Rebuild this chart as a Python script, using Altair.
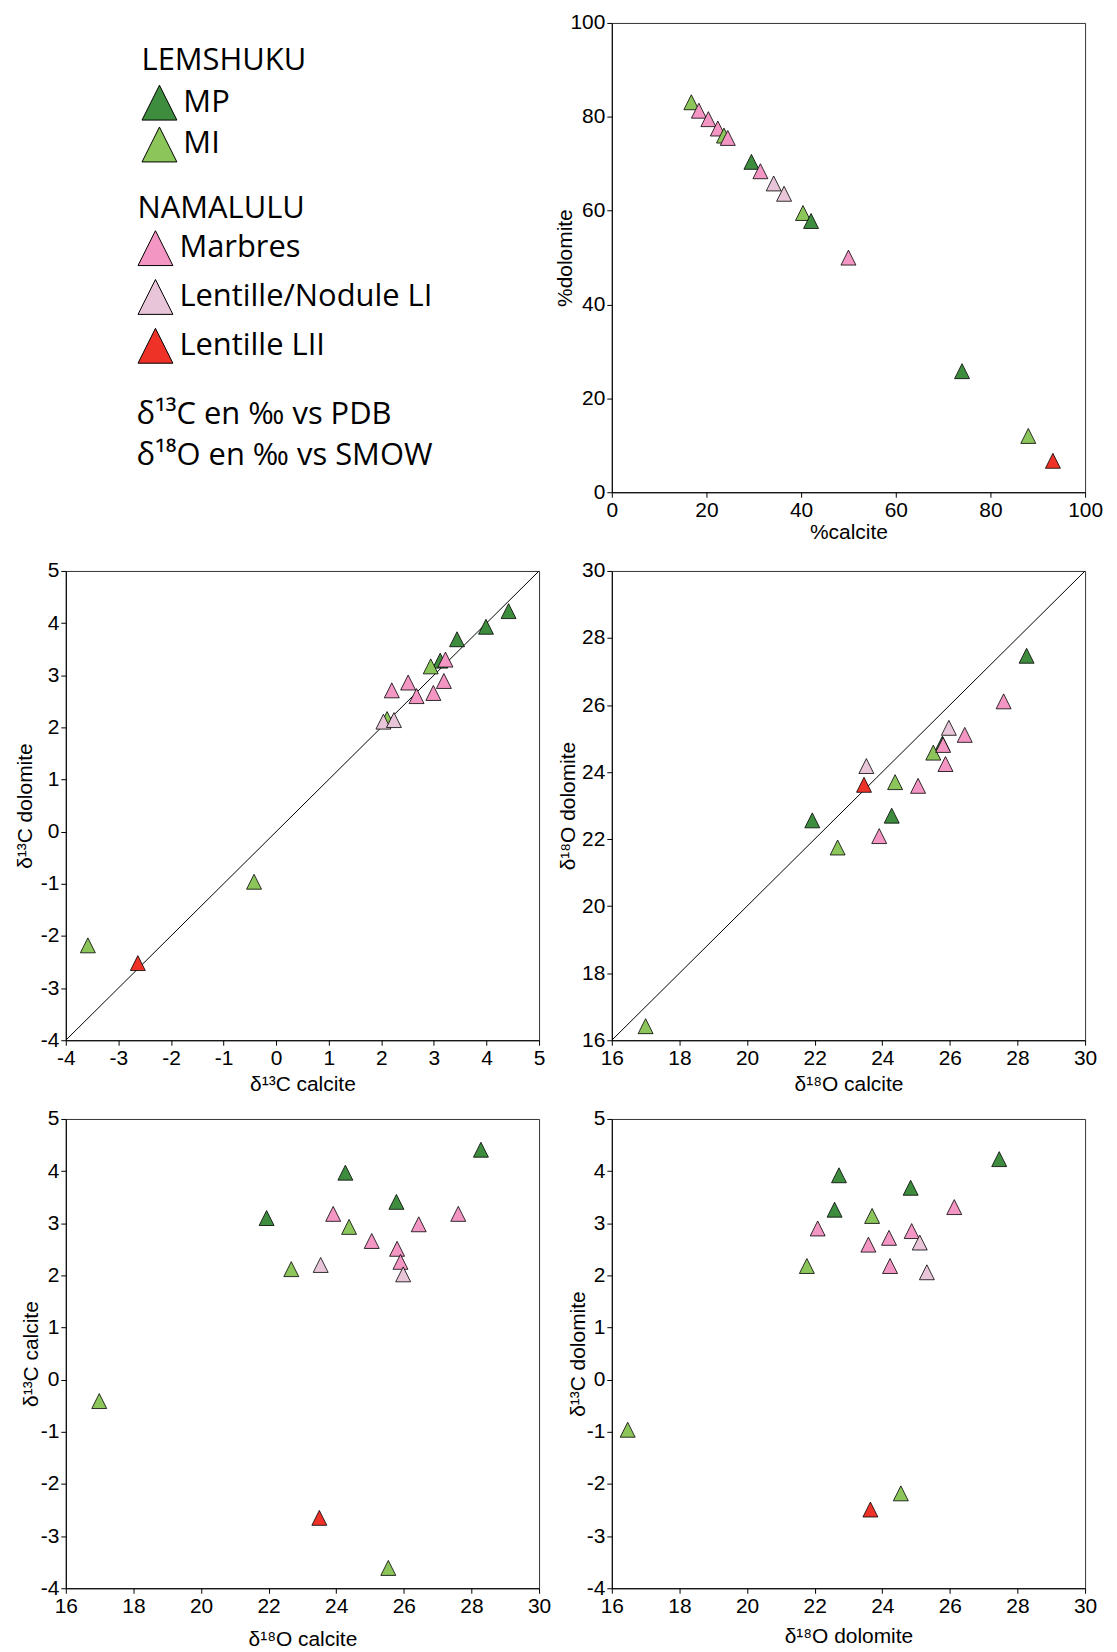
import altair as alt
import pandas as pd

# ---------------- data ----------------
GROUPS = ["MP", "MI", "Marbres", "Lentille/Nodule LI", "Lentille LII"]
COLORS = ["#3e8c3e", "#8cc65a", "#f496c3", "#e8c5d8", "#ee3228"]
LEM = GROUPS[:2]
NAM = GROUPS[2:]

NOTE_LINES = ["δ¹³C en ‰ vs PDB", "δ¹⁸O en ‰ vs SMOW"]

# panel 1 : %calcite vs %dolomite
p1_group = ["MI", "Marbres", "Marbres", "Marbres", "MI", "Marbres", "MP", "Marbres",
            "Lentille/Nodule LI", "Lentille/Nodule LI", "MI", "MP", "Marbres", "MP", "MI",
            "Lentille LII"]
p1_calcite = [16.8, 18.4, 20.4, 22.4, 23.7, 24.5, 29.5, 31.4, 34.2, 36.4, 40.4, 42.1,
              50.0, 74.0, 88.0, 93.2]
p1_dolomite = [83.1, 81.3, 79.5, 77.5, 76.0, 75.5, 70.4, 68.4, 65.8, 63.6, 59.5, 57.8,
               50.0, 25.8, 12.0, 6.7]

# panels 2-5 (same group order)
pX_group = ["MP"] * 4 + ["MI"] * 4 + ["Marbres"] * 6 + ["Lentille/Nodule LI"] * 2 + ["Lentille LII"]

# panel 2 : d13C calcite vs d13C dolomite
p2_c13_cal = [3.12, 3.44, 3.99, 4.42, -3.58, -0.42, 2.11, 2.94,
              2.20, 2.51, 2.67, 2.99, 3.19, 3.22, 2.04, 2.24, -2.63]
p2_c13_dol = [3.28, 3.69, 3.93, 4.23, -2.18, -0.96, 2.16, 3.17,
              2.71, 2.86, 2.60, 2.66, 2.89, 3.30, 2.11, 2.14, -2.52]

# panel 3 : d18O calcite vs d18O dolomite
p3_o18_cal = [21.93, 24.28, 25.78, 28.27, 17.00, 22.68, 24.38, 25.51,
              23.91, 25.06, 25.80, 25.87, 26.44, 27.59, 23.53, 25.97, 23.46]
p3_o18_dol = [22.56, 22.70, 24.85, 27.47, 16.42, 21.75, 23.70, 24.58,
              22.09, 23.59, 24.81, 24.24, 25.11, 26.11, 24.18, 25.32, 23.62]

# panel 4 : d18O calcite vs d13C calcite
p4_o18_cal = [21.94, 24.27, 25.78, 28.28, 16.99, 22.67, 24.38, 25.54,
              23.91, 25.05, 25.80, 25.90, 26.44, 27.61, 23.54, 25.98, 23.50]
p4_c13_cal = [3.10, 3.97, 3.41, 4.41, -0.41, 2.12, 2.93, -3.61,
              3.18, 2.66, 2.51, 2.26, 2.98, 3.18, 2.20, 2.02, -2.65]

# panel 5 : d18O dolomite vs d13C dolomite
p5_o18_dol = [22.59, 22.72, 24.84, 27.46, 16.47, 21.77, 23.70, 24.55,
              22.09, 23.59, 24.20, 24.23, 24.87, 26.13, 25.11, 25.32, 23.65]
p5_c13_dol = [3.26, 3.92, 3.68, 4.23, -0.96, 2.18, 3.14, -2.18,
              2.90, 2.59, 2.72, 2.18, 2.85, 3.31, 2.63, 2.06, -2.49]

PCT_TICKS = [0, 20, 40, 60, 80, 100]
C13_TICKS = [-4, -3, -2, -1, 0, 1, 2, 3, 4, 5]
O18_TICKS = [16, 18, 20, 22, 24, 26, 28, 30]
DIAG_C13 = [-4, 5]     # 1:1 line end points
DIAG_O18 = [16, 30]

# ---------------- styling ----------------
W, H = 475, 471
TRI = "M0,-1L1,1L-1,1Z"
LABEL_EXPR = "'' + datum.value"


def panel(xs, ys, groups, ticks_x, ticks_y, xtitle, ytitle, diag=None,
          ytp=2, xtp=5):
    df = pd.DataFrame({"x": xs, "y": ys, "group": groups})
    xscale = alt.Scale(domain=[ticks_x[0], ticks_x[-1]], nice=False, zero=False)
    yscale = alt.Scale(domain=[ticks_y[0], ticks_y[-1]], nice=False, zero=False)
    xaxis = alt.Axis(title=xtitle, values=ticks_x, labelExpr=LABEL_EXPR, titlePadding=xtp)
    yaxis = alt.Axis(title=ytitle, values=ticks_y, labelExpr=LABEL_EXPR, titlePadding=ytp)
    pts = alt.Chart(df).mark_point(
        shape=TRI, filled=True, size=225, stroke="black", strokeWidth=0.8, opacity=1
    ).encode(
        x=alt.X("x:Q", scale=xscale, axis=xaxis),
        y=alt.Y("y:Q", scale=yscale, axis=yaxis),
        fill=alt.Fill("group:N", scale=alt.Scale(domain=GROUPS, range=COLORS), legend=None),
    )
    if diag is not None:
        ddf = pd.DataFrame({"x": diag, "y": diag})
        line = alt.Chart(ddf).mark_line(color="black", strokeWidth=1).encode(
            x=alt.X("x:Q", scale=xscale, axis=xaxis),
            y=alt.Y("y:Q", scale=yscale, axis=yaxis),
        )
        return alt.layer(line, pts).properties(width=W, height=H)
    return pts.properties(width=W, height=H)


p1 = panel(p1_calcite, p1_dolomite, p1_group, PCT_TICKS, PCT_TICKS,
           "%calcite", "%dolomite", ytp=-6, xtp=1)
p2 = panel(p2_c13_cal, p2_c13_dol, pX_group, C13_TICKS, C13_TICKS,
           "δ¹³C calcite", "δ¹³C dolomite", diag=DIAG_C13, ytp=5, xtp=5)
p3 = panel(p3_o18_cal, p3_o18_dol, pX_group, O18_TICKS, O18_TICKS,
           "δ¹⁸O calcite", "δ¹⁸O dolomite", diag=DIAG_O18, ytp=3, xtp=5)
p4 = panel(p4_o18_cal, p4_c13_cal, pX_group, O18_TICKS, C13_TICKS,
           "δ¹⁸O calcite", "δ¹³C calcite", ytp=-1, xtp=12)
p5 = panel(p5_o18_dol, p5_c13_dol, pX_group, O18_TICKS, C13_TICKS,
           "δ¹⁸O dolomite", "δ¹³C dolomite", ytp=-2, xtp=9)

LEG_COMMON = dict(
    orient="none", symbolType=TRI, symbolSize=1225, symbolStrokeColor="black",
    symbolStrokeWidth=1, symbolOpacity=1,
    titleFont="Open Sans", titleFontSize=31, titleFontWeight="normal", titleColor="black",
    labelFont="Open Sans", labelFontSize=31, labelColor="black", labelOffset=6,
    labelLimit=600, titleLimit=600, padding=0,
)

lem_df = pd.DataFrame({"group": LEM})
nam_df = pd.DataFrame({"group": NAM})

la = alt.Chart(lem_df).mark_point(
    shape=TRI, filled=True, opacity=0, stroke="black", strokeWidth=1
).encode(
    fill=alt.Fill("group:N", scale=alt.Scale(domain=LEM, range=COLORS[:2]),
                  legend=alt.Legend(title="LEMSHUKU", legendX=76, legendY=23,
                                    rowPadding=2, titlePadding=8, **LEG_COMMON))
)
lb = alt.Chart(nam_df).mark_point(
    shape=TRI, filled=True, opacity=0, stroke="black", strokeWidth=1
).encode(
    fill=alt.Fill("group:N", scale=alt.Scale(domain=NAM, range=COLORS[2:]),
                  legend=alt.Legend(title="NAMALULU", legendX=72, legendY=172,
                                    rowPadding=9, titlePadding=5, **LEG_COMMON))
)

legend_panel = alt.layer(la, lb).resolve_scale(fill="independent").properties(
    width=W, height=H,
    view=alt.ViewBackground(stroke="transparent"),
    title=alt.TitleParams(text=NOTE_LINES, orient="bottom", anchor="start",
                          font="Open Sans", fontSize=31, fontWeight="normal",
                          color="black", dx=71, dy=-92, lineHeight=41, offset=0),
)

chart = alt.concat(
    legend_panel, p1, p2, p3, p4, p5,
    columns=2, spacing={"row": 79, "column": 73}, bounds="flush",
).resolve_scale(fill="independent").properties(
    padding={"left": 5, "top": 0, "right": 5, "bottom": 5},
    background="white",
).configure_axis(
    labelFont="Liberation Sans", labelFontSize=21, titleFont="Liberation Sans",
    titleFontSize=21, titleFontWeight="normal", labelColor="black", titleColor="black",
    tickColor="black", domainColor="black", tickSize=5, grid=False, labelFlush=False,
    labelOverlap=False, labelPadding=2, domainWidth=1, tickWidth=1,
).configure_view(stroke="#333333", strokeWidth=1)

chart.save("out.html", embed_options={"renderer": "svg", "actions": False})
